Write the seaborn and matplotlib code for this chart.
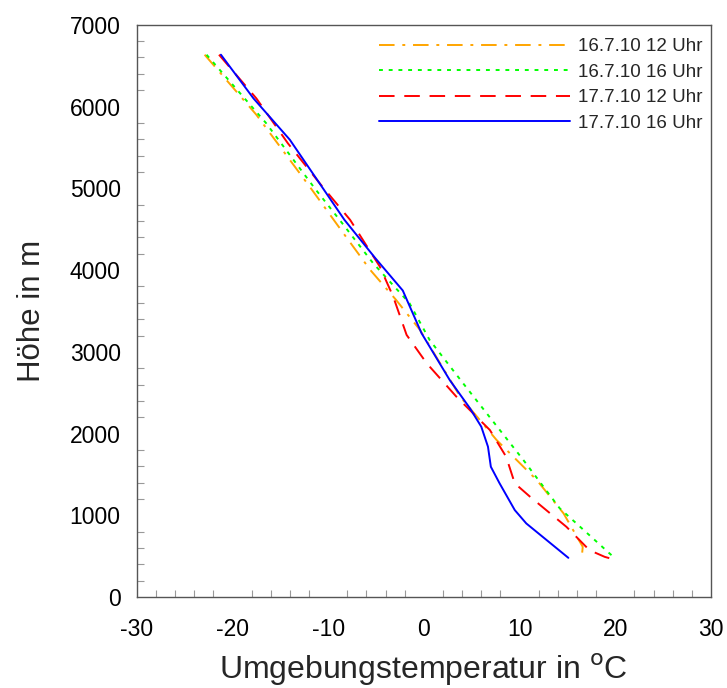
import matplotlib
matplotlib.use("Agg")
import matplotlib.pyplot as plt
import seaborn as sns
import pandas as pd
from matplotlib.ticker import MultipleLocator

sns.set_theme(style="white")
plt.rcParams['font.family'] = ['Liberation Sans', 'DejaVu Sans']
plt.rcParams['axes.unicode_minus'] = False

labels = ["16.7.10 12 Uhr", "16.7.10 16 Uhr", "17.7.10 12 Uhr", "17.7.10 16 Uhr"]
colors = ["#FFA500", "#00FF00", "#FF0000", "#0000FF"]

# 16.7.10 12 Uhr (orange)
t_o = [-22.9, -17.5, -11.8, -8.4, -5.6, -2.9, -0.4, 3.8, 7.6, 11.8, 14.6, 16.0, 16.6, 16.5]
h_o = [6634, 5900, 5000, 4450, 4002, 3635, 3268, 2452, 1922, 1432, 1024, 738, 616, 493]
# 16.7.10 16 Uhr (green)
t_g = [-22.7, -16.5, -11.4, -8.8, -5.3, -1.5, 0.6, 4.1, 5.2, 10.4, 14.2, 19.8]
h_g = [6634, 5800, 5000, 4614, 4084, 3595, 3146, 2616, 2452, 1677, 1086, 493]
# 17.7.10 12 Uhr (red)
t_r = [-21.4, -17.5, -14.2, -10.8, -7.7, -4.6, -3.2, -1.8, 0.3, 3.4, 4.8, 6.9, 8.6, 9.5, 11.1, 14.9, 17.3, 18.9, 19.6]
h_r = [6634, 6100, 5550, 5050, 4614, 4043, 3675, 3207, 2860, 2452, 2289, 2044, 1717, 1392, 1228, 860, 575, 493, 470]
# 17.7.10 16 Uhr (blue)
t_b = [-21.2, -17.8, -14.0, -8.3, -5.1, -2.2, -0.24, 2.7, 4.8, 6.0, 6.7, 7.0, 7.9, 9.5, 10.7, 15.1]
h_b = [6634, 6100, 5594, 4615, 4150, 3750, 3228, 2656, 2313, 2085, 1840, 1595, 1395, 1065, 902, 481]

series_t = [t_o, t_g, t_r, t_b]
series_h = [h_o, h_g, h_r, h_b]
styles = [(0, (8, 4, 1.5, 4)), (0, (2, 3)), (0, (8, 5)), '-']

fig = plt.figure(figsize=(7.27, 6.88), dpi=100)
ax = fig.add_axes([0.188, 0.132, 0.790, 0.832])

for lab, col, ts, hs, ls in zip(labels, colors, series_t, series_h, styles):
    df = pd.DataFrame({"T": ts, "H": hs})
    sns.lineplot(data=df, x="T", y="H", sort=False, color=col, linestyle=ls,
                 linewidth=1.4, label=lab, ax=ax, estimator=None)

ax.set_xlim(-30, 30)
ax.set_ylim(0, 7000)
ax.xaxis.set_major_locator(MultipleLocator(10))
ax.xaxis.set_minor_locator(MultipleLocator(2))
ax.yaxis.set_major_locator(MultipleLocator(1000))
ax.yaxis.set_minor_locator(MultipleLocator(200))
ax.tick_params(axis='both', which='major', direction='in', length=10, width=1,
               color='#555555', labelsize=16.5, top=False, right=False,
               labelcolor='black')
ax.tick_params(axis='x', which='major', pad=15)
ax.tick_params(axis='y', which='major', pad=11.5)
ax.tick_params(axis='both', which='minor', direction='in', length=5, width=0.8,
               color='#999999', top=False, right=False, bottom=True, left=True)
for s in ax.spines.values():
    s.set_color('#555555')
    s.set_linewidth(1)
ax.set_xlabel("Umgebungstemperatur in $^{\\mathrm{o}}$C", fontsize=23, labelpad=8)
ax.set_ylabel("Höhe in m", fontsize=22.5, labelpad=16)

leg = ax.legend(loc='upper right', frameon=False, fontsize=13.5, handlelength=10.2,
                handletextpad=0.4, labelspacing=0.45, borderaxespad=0.0,
                bbox_to_anchor=(0.998, 0.99))

fig.savefig("out.png", dpi=100)
